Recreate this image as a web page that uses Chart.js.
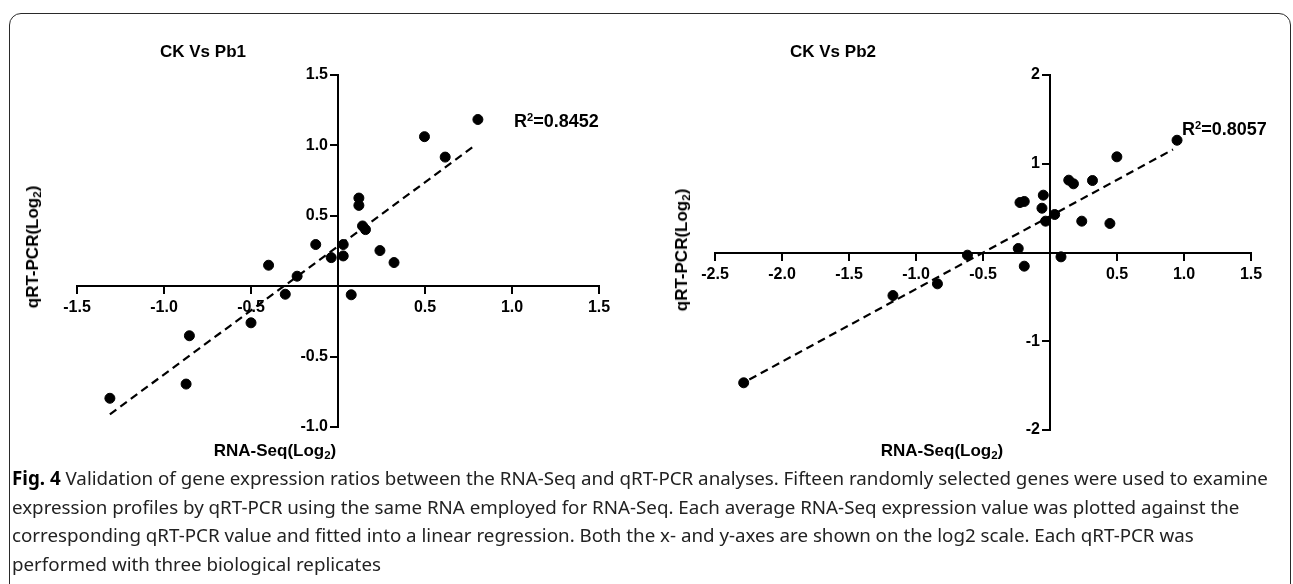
<!DOCTYPE html>
<html>
<head>
<meta charset="utf-8">
<script src="https://cdn.jsdelivr.net/npm/chart.js@4.4.1/dist/chart.umd.min.js"></script>
<style>
html, body { margin: 0; padding: 0; background: #fff; }
body { width: 1293px; height: 584px; position: relative; overflow: hidden; font-family: 'Liberation Sans', Arial, sans-serif; }
.frame { position: absolute; left: 9px; top: 13px; width: 1282px; height: 620px; border: 1.5px solid #2a2a2a; border-radius: 12px; box-sizing: border-box; }
.box { position: absolute; top: 0; height: 470px; }
#box1 { left: 0; width: 660px; }
#box2 { left: 660px; width: 633px; }
.lbl { position: absolute; font-weight: bold; color: #000; white-space: nowrap; font-size: 17px; line-height: 1; }
.ctr { transform: translate(-50%, -50%); }
.rot { transform: translate(-50%, -50%) rotate(-90deg); }
.lbl sub { font-size: 0.68em; vertical-align: -0.3em; }
.lbl sup { font-size: 0.62em; vertical-align: 0.55em; }
.r2 { font-size: 18px; transform: translate(0, -50%); }
#caption { position: absolute; left: 12px; top: 464px; font-family: 'Noto Sans', 'Open Sans', sans-serif; color: #222; line-height: 28.7px; white-space: nowrap; }
#caption b { color: #000; }
</style>
</head>
<body>
<div class="frame"></div>
<div class="box" id="box1"><canvas id="chart1"></canvas></div>
<div class="box" id="box2"><canvas id="chart2"></canvas></div>

<div class="lbl ctr" style="left:203px; top:51px;">CK Vs Pb1</div>
<div class="lbl ctr" style="left:833px; top:51px;">CK Vs Pb2</div>
<div class="lbl rot" style="left:34px; top:247px;">qRT-PCR(Log<sub>2</sub>)</div>
<div class="lbl rot" style="left:683px; top:250px;">qRT-PCR(Log<sub>2</sub>)</div>
<div class="lbl ctr" style="left:275px; top:452px;">RNA-Seq(Log<sub>2</sub>)</div>
<div class="lbl ctr" style="left:942px; top:452px;">RNA-Seq(Log<sub>2</sub>)</div>
<div class="lbl r2" style="left:514px; top:121px;">R<sup>2</sup>=0.8452</div>
<div class="lbl r2" style="left:1182px; top:129px;">R<sup>2</sup>=0.8057</div>

<div id="caption"><span id="line1"><b>Fig. 4</b> Validation of gene expression ratios between the RNA-Seq and qRT-PCR analyses. Fifteen randomly selected genes were used to examine</span><br>expression profiles by qRT-PCR using the same RNA employed for RNA-Seq. Each average RNA-Seq expression value was plotted against the<br>corresponding qRT-PCR value and fitted into a linear regression. Both the x- and y-axes are shown on the log2 scale. Each qRT-PCR was<br>performed with three biological replicates</div>

<script>
// CK vs Pb1
const rnaSeq1 = [-1.311, -0.873, -0.854, -0.500, -0.399, -0.303, -0.235, -0.128, -0.039, 0.030, 0.030, 0.076, 0.120, 0.120, 0.141, 0.158, 0.241, 0.322, 0.497, 0.616, 0.804];
const qpcr1   = [-0.796, -0.695, -0.352, -0.260, 0.149, -0.057, 0.071, 0.296, 0.203, 0.296, 0.215, -0.061, 0.626, 0.574, 0.428, 0.402, 0.253, 0.168, 1.062, 0.917, 1.184];
const fitX1 = [-1.311, 0.793];
const fitY1 = [-0.910, 1.005];
const xTicks1 = [-1.5, -1.0, -0.5, 0.5, 1.0, 1.5];
const xLabels1 = ['-1.5', '-1.0', '-0.5', '0.5', '1.0', '1.5'];
const yTicks1 = [-1.0, -0.5, 0.5, 1.0, 1.5];
const yLabels1 = ['-1.0', '-0.5', '0.5', '1.0', '1.5'];

// CK vs Pb2
const rnaSeq2 = [-2.286, -1.172, -0.840, -0.616, -0.237, -0.224, -0.192, -0.192, -0.060, -0.050, -0.033, 0.035, 0.082, 0.140, 0.175, 0.237, 0.317, 0.447, 0.499, 0.948];
const qpcr2   = [-1.468, -0.485, -0.353, -0.030, 0.045, 0.563, 0.575, -0.154, 0.499, 0.646, 0.353, 0.428, -0.049, 0.815, 0.774, 0.353, 0.811, 0.327, 1.078, 1.265];
const fitX2 = [-2.244, 0.918];
const fitY2 = [-1.431, 1.161];
const xTicks2 = [-2.5, -2.0, -1.5, -1.0, -0.5, 0.5, 1.0, 1.5];
const xLabels2 = ['-2.5', '-2.0', '-1.5', '-1.0', '-0.5', '0.5', '1.0', '1.5'];
const yTicks2 = [-2, -1, 1, 2];
const yLabels2 = ['-2', '-1', '1', '2'];

// fit caption font so the first line spans like the figure
const cap = document.querySelector('#caption');
cap.style.fontSize = '20px';
const w = document.querySelector('#line1').getBoundingClientRect().width;
cap.style.fontSize = (20 * 1256 / w).toFixed(2) + 'px';

const tickFont = { family: "'Liberation Sans', Arial, sans-serif", size: 16, weight: 'bold' };

// y labels of a centred axis are drawn flush on the axis line; move them left of the tick marks
const shiftYLabels = (s) => {
    if (s._shifted) return;
    s._shifted = true;
    const orig = s._computeLabelItems.bind(s);
    s._computeLabelItems = (area) => orig(area).map(it => {
        it.options.translation[0] -= 10;
        return it;
    });
};

const makeChart = (id, xs, ys, fx, fy, xr, yr, xt, xl, yt, yl, pad) => {
    const pts = xs.map((x, i) => ({ x, y: ys[i] }));
    const line = fx.map((x, i) => ({ x, y: fy[i] }));
    const axis = (min, max, vals, labels, pos, horiz) => ({
        type: 'linear',
        min, max,
        position: pos,
        afterFit: s => { if (horiz) s.height = 0; else s.width = 0; },
        afterBuildTicks: s => { s.ticks = vals.map(v => ({ value: v })); },
        afterUpdate: s => { if (!horiz) shiftYLabels(s); },
        ticks: {
            autoSkip: false,
            maxRotation: 0,
            color: '#000',
            font: tickFont,
            padding: 5,
            callback: (v) => { const i = vals.indexOf(v); return i < 0 ? '' : labels[i]; }
        },
        grid: { drawOnChartArea: false, drawTicks: true, tickLength: 7, color: '#000', lineWidth: 2 },
        border: { display: true, color: '#000', width: 2 }
    });

    return new Chart(document.getElementById(id), {
        type: 'scatter',
        data: {
            datasets: [{
                data: pts,
                backgroundColor: '#000',
                borderColor: '#000',
                pointRadius: 5,
                pointHoverRadius: 5
            }, {
                type: 'line',
                data: line,
                borderColor: '#000',
                borderWidth: 2.2,
                borderDash: [8, 5],
                pointRadius: 0,
                fill: false
            }]
        },
        options: {
            responsive: true,
            maintainAspectRatio: false,
            animation: false,
            events: [],
            layout: { padding: pad },
            plugins: { legend: { display: false }, tooltip: { enabled: false } },
            scales: {
                x: axis(xr[0], xr[1], xt, xl, { y: 0 }, true),
                y: axis(yr[0], yr[1], yt, yl, { x: 0 }, false)
            }
        }
    });
};

makeChart('chart1', rnaSeq1, qpcr1, fitX1, fitY1, [-1.5, 1.5], [-1.0, 1.5], xTicks1, xLabels1, yTicks1, yLabels1,
    { left: 77, right: 61, top: 75, bottom: 43 });
makeChart('chart2', rnaSeq2, qpcr2, fitX2, fitY2, [-2.5, 1.5], [-2, 2], xTicks2, xLabels2, yTicks2, yLabels2,
    { left: 55, right: 42, top: 75, bottom: 40 });
</script>
</body>
</html>
